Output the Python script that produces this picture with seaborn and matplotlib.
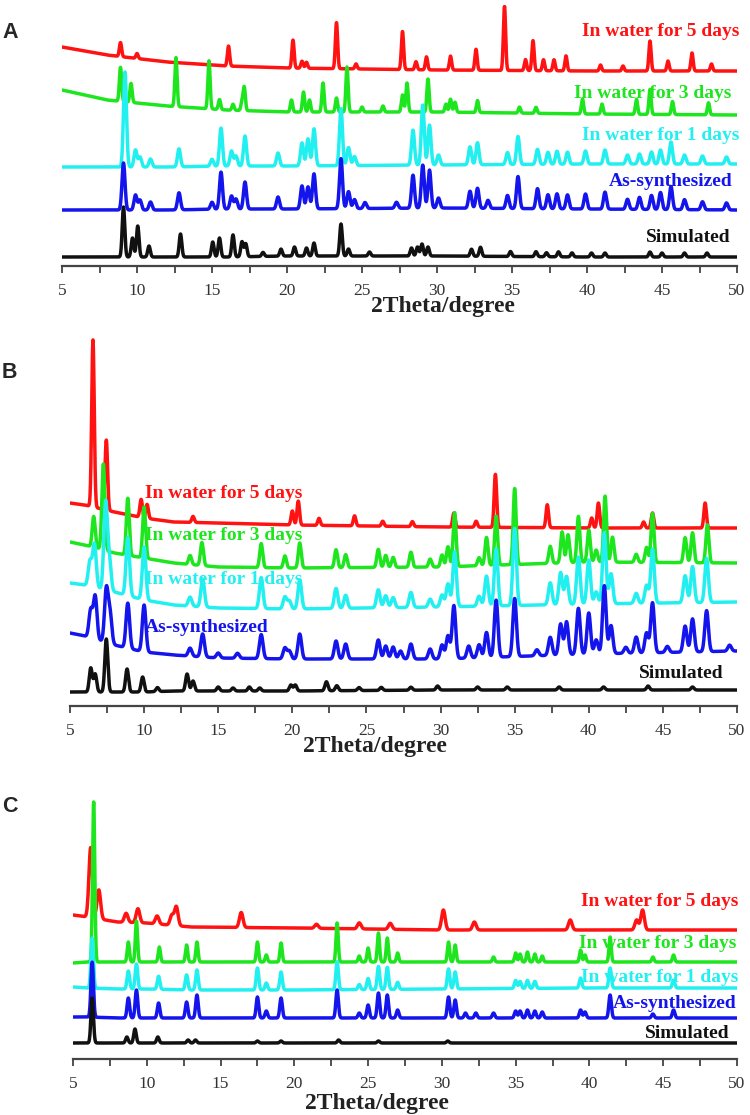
"""
plot.py
=======
Patrones PXRD (A, B, C): simulado, as-synthesized y tras 1/3/5 días en agua.
"""

import numpy as np
import pandas as pd
import matplotlib
matplotlib.use("Agg")
import matplotlib.pyplot as plt
from matplotlib.ticker import MultipleLocator
import seaborn as sns

SAMPLES = ["In water for 5 days", "In water for 3 days", "In water for 1 days",
           "As-synthesized", "Simulated"]
COLORS = ["#ff1212", "#1ee61e", "#22f0f0", "#1414ec", "#111111"]
TICKS = [5, 10, 15, 20, 25, 30, 35, 40, 45, 50]

# ---------------- Panel A ----------------
A_BG_X = [5, 8, 12, 16, 20, 30, 40, 50]
A_RED_BG = [219, 211, 204, 200, 198, 196, 195, 195]
A_GREEN_BG = [176, 166, 160, 156, 154, 154, 152, 151]
A_CYAN_BG = [99, 99, 99, 100, 100, 101, 102, 102]
A_BLUE_BG = [56, 56, 56, 57, 57, 58, 57, 56]
A_SIM_BG = [9, 9, 9, 9, 10, 10, 9, 9]

A_RED_PEAKS = [(8.9, 14), (10.0, 5), (16.1, 20), (20.4, 28), (21.0, 7), (21.3, 6),
               (23.3, 46), (24.6, 5), (27.7, 38), (28.6, 8), (29.3, 13), (30.9, 14),
               (32.6, 21), (34.5, 64), (35.9, 11), (36.4, 30), (37.1, 11), (37.8, 11),
               (38.6, 15), (40.9, 6), (42.4, 5), (44.2, 30), (45.4, 10), (47.0, 18),
               (48.3, 7)]
A_GREEN_PEAKS = [(8.9, 34), (9.6, 19), (12.6, 49), (14.8, 48), (15.5, 10), (16.4, 6),
                 (17.0, 8), (17.15, 23), (20.3, 12), (21.1, 20), (21.5, 12), (22.4, 29),
                 (23.3, 14), (24.0, 45), (25.0, 5), (26.4, 6), (27.7, 17), (28.0, 29),
                 (29.4, 33), (30.6, 8), (30.9, 13), (31.2, 10), (32.7, 12), (35.5, 6),
                 (36.6, 6), (39.7, 15), (41.0, 10), (43.3, 15), (44.2, 25), (45.7, 13),
                 (48.1, 12)]
A_CYAN_PEAKS = [(9.2, 95), (9.9, 17), (10.2, 10), (10.9, 8), (12.8, 18), (15.0, 7),
                (15.6, 38), (16.3, 15), (16.6, 10), (17.2, 30), (19.4, 13), (21.0, 23),
                (21.4, 27), (21.8, 37), (23.6, 57), (24.1, 18), (24.5, 9), (28.4, 35),
                (29.05, 60), (29.5, 40), (30.1, 10), (32.2, 18), (32.7, 22), (34.7, 12),
                (35.4, 28), (36.7, 15), (37.4, 12), (38.0, 13), (38.7, 12), (39.9, 13),
                (41.2, 14), (42.7, 9), (43.5, 10), (44.3, 12), (44.9, 14), (45.6, 22),
                (46.5, 9), (47.7, 8), (49.3, 7)]
A_BLUE_PEAKS = [(9.1, 47), (9.9, 15), (10.2, 10), (10.9, 8), (12.8, 17), (15.0, 7),
                (15.6, 37), (16.3, 13), (16.6, 10), (17.2, 27), (19.4, 12), (21.0, 23),
                (21.4, 22), (21.8, 35), (23.6, 50), (24.1, 17), (24.5, 9), (25.2, 6),
                (27.3, 6), (28.4, 33), (29.05, 43), (29.5, 38), (30.1, 10), (32.2, 17),
                (32.7, 20), (33.4, 8), (34.7, 13), (35.4, 32), (36.7, 20), (37.4, 14),
                (38.0, 15), (38.7, 14), (39.9, 15), (41.2, 17), (42.7, 10), (43.5, 12),
                (44.3, 14), (44.9, 17), (45.6, 23), (46.5, 10), (47.7, 8), (49.3, 7)]
A_SIM_PEAKS = [(9.1, 50), (9.7, 19), (10.05, 31), (10.8, 11), (12.9, 23), (15.05, 15),
               (15.5, 19), (16.4, 22), (17.0, 15), (17.25, 13), (18.4, 4), (19.6, 7),
               (20.5, 9), (21.3, 8), (21.8, 13), (23.6, 32), (24.1, 7), (25.5, 4),
               (28.3, 8), (28.7, 9), (29.0, 12), (29.4, 9), (32.3, 7), (32.9, 9),
               (34.9, 5), (36.6, 5), (37.3, 4), (38.1, 5), (39.0, 4), (40.3, 4),
               (41.2, 4), (44.2, 5), (45.0, 4), (46.5, 4), (48.0, 4)]

# ---------------- Panel B ----------------
B_BG_X = [5, 6, 8, 10, 12, 15, 20, 30, 40, 50]
B_RED_BG = [203, 201, 194, 188, 184, 183, 181, 179, 178, 178]
B_GREEN_BG = [164, 161, 153, 148, 143, 139, 138, 139, 144, 143]
B_CYAN_BG = [123, 121, 114, 106, 101, 98, 97, 99, 102, 104]
B_BLUE_BG = [73, 70, 61, 54, 51, 48, 47, 47, 52, 55]
B_SIM_BG = [14, 14, 14, 14, 15, 15, 15, 16, 16, 16]

B_RED_PEAKS = [(6.55, 167), (7.45, 70), (9.8, 18), (10.2, 14), (13.3, 6), (20.0, 14),
               (20.4, 24), (21.8, 7), (24.2, 10), (26.1, 5), (28.1, 5), (30.9, 14),
               (32.4, 6), (33.7, 53), (37.2, 23), (40.2, 10), (40.65, 25), (43.7, 6),
               (44.3, 15), (47.85, 25)]
B_GREEN_PEAKS = [(6.6, 31), (7.25, 86), (8.9, 57), (10.0, 51), (13.1, 9), (13.9, 23),
                 (17.9, 24), (19.5, 12), (20.5, 25), (22.95, 18), (23.6, 13), (25.8, 18),
                 (26.3, 12), (26.8, 10), (28.0, 15), (29.3, 8), (30.1, 12), (30.5, 20),
                 (30.95, 54), (32.6, 8), (33.1, 28), (33.75, 49), (35.0, 76), (37.4, 17),
                 (38.2, 31), (38.6, 28), (39.3, 46), (40.0, 32), (40.5, 12), (41.1, 66),
                 (41.6, 25), (43.2, 8), (43.9, 15), (44.3, 49), (46.5, 25), (47.0, 30),
                 (48.0, 38)]
B_CYAN_PEAKS = [(6.35, 25), (6.65, 43), (7.4, 86), (7.65, 30), (8.9, 58), (10.0, 53),
                (13.1, 9), (13.95, 28), (17.9, 31), (19.5, 12), (19.8, 8), (20.5, 29),
                (22.95, 20), (23.6, 13), (25.8, 18), (26.3, 12), (26.8, 10), (28.0, 15),
                (29.3, 8), (30.1, 12), (30.5, 23), (30.95, 55), (32.6, 10), (33.1, 30),
                (33.75, 57), (35.0, 77), (37.4, 22), (38.1, 32), (38.5, 28), (39.3, 47),
                (40.0, 44), (40.5, 12), (41.05, 71), (41.5, 30), (43.2, 10), (43.9, 18),
                (44.3, 54), (46.5, 27), (47.0, 36), (47.95, 44)]
B_BLUE_PEAKS = [(6.4, 28), (6.7, 43), (7.45, 53), (7.7, 30), (8.9, 45), (10.0, 47),
                (13.1, 8), (13.95, 23), (15.0, 5), (16.3, 5), (17.9, 24), (19.5, 11),
                (19.8, 8), (20.5, 25), (22.95, 18), (23.6, 15), (25.8, 19), (26.3, 13),
                (26.8, 12), (27.3, 8), (28.0, 15), (29.3, 10), (30.1, 14), (30.5, 23),
                (30.9, 53), (31.9, 12), (32.6, 13), (33.1, 25), (33.75, 57), (35.0, 58),
                (36.5, 6), (37.4, 18), (38.1, 31), (38.5, 33), (39.3, 46), (40.0, 41),
                (40.5, 14), (41.05, 68), (41.5, 28), (42.5, 6), (43.2, 16), (43.9, 20),
                (44.3, 50), (45.3, 6), (46.5, 26), (47.0, 33), (47.95, 41), (49.5, 6)]
B_SIM_PEAKS = [(6.4, 24), (6.7, 18), (7.45, 53), (8.85, 23), (9.9, 15), (10.9, 4),
               (12.9, 17), (13.3, 10), (15.0, 4), (16.0, 3), (17.1, 4), (17.8, 3),
               (19.9, 6), (20.2, 6), (22.3, 9), (23.0, 5), (24.5, 3), (26.0, 3),
               (28.0, 3), (29.8, 4), (32.5, 3), (34.5, 3), (38.0, 3), (41.0, 3),
               (44.0, 4), (47.0, 3)]

# ---------------- Panel C ----------------
C_BG_X = [5, 6, 8, 10, 13, 20, 30, 40, 50]
C_RED_BG = [144, 142, 137, 136, 132, 131, 129, 129, 129]
C_GREEN_BG = [96, 97, 97, 97, 97, 97, 97, 97, 97]
C_CYAN_BG = [72, 71, 70, 70, 69, 69, 70, 71, 71]
C_BLUE_BG = [42, 42, 41, 41, 41, 41, 41, 41, 41]
C_SIM_BG = [16, 16, 16, 16, 16, 16, 16, 16, 16]

C_RED_PEAKS = [(6.2, 70), (6.75, 29), (8.6, 9), (9.4, 14), (10.7, 8), (11.7, 10),
               (12.0, 19), (16.4, 15), (21.5, 4), (24.4, 6), (26.5, 6), (30.1, 20),
               (32.2, 8), (38.7, 10), (43.2, 10), (43.6, 20)]
C_GREEN_PEAKS = [(6.4, 160), (8.75, 20), (9.3, 41), (10.85, 15), (12.7, 17), (13.4, 20),
                 (17.5, 20), (18.1, 7), (19.1, 19), (22.9, 39), (24.4, 6), (25.0, 14),
                 (25.7, 29), (26.3, 24), (27.0, 9), (30.45, 20), (30.9, 17), (33.5, 5),
                 (35.0, 9), (35.3, 8), (35.8, 10), (36.3, 8), (36.8, 6), (39.4, 12),
                 (39.7, 7), (41.4, 25), (44.3, 5), (45.7, 7)]
C_CYAN_PEAKS = [(6.3, 50), (8.75, 18), (9.3, 25), (10.8, 13), (12.7, 15), (13.4, 20),
                (17.5, 22), (18.1, 7), (19.1, 18), (22.9, 28), (24.4, 5), (25.0, 11),
                (25.7, 23), (26.3, 22), (27.0, 7), (30.45, 20), (30.9, 17), (35.0, 8),
                (35.3, 7), (35.8, 8), (36.3, 7), (39.4, 10), (41.4, 20), (45.7, 8)]
C_BLUE_PEAKS = [(6.3, 55), (8.75, 20), (9.3, 28), (10.8, 15), (12.7, 16), (13.4, 23),
                (17.5, 21), (18.1, 7), (19.1, 20), (22.9, 28), (24.4, 5), (25.0, 13),
                (25.7, 25), (26.3, 23), (27.0, 8), (30.45, 21), (30.9, 18), (31.6, 5),
                (32.3, 5), (33.5, 5), (35.0, 7), (35.3, 7), (35.8, 8), (36.3, 7),
                (36.8, 6), (39.4, 8), (39.7, 6), (41.4, 23), (44.3, 4), (45.7, 8)]
C_SIM_PEAKS = [(6.3, 45), (8.65, 6), (9.2, 14), (10.75, 6), (12.8, 3), (13.3, 3),
               (17.5, 2), (19.1, 2), (23.0, 3), (25.7, 2), (30.4, 2)]

TWO_THETA = np.linspace(5, 50, 4501)

sns.set_theme(style="ticks")
plt.rcParams["font.family"] = ["Liberation Serif", "DejaVu Serif"]


def pattern(bg_x, bg_y, peaks, width):
    y = np.interp(TWO_THETA, bg_x, bg_y)
    for pos, h in peaks:
        y = y + h * np.exp(-0.5 * ((TWO_THETA - pos) / width) ** 2)
    return y


def panel_frame(curves):
    frames = []
    for name, bg_x, bg_y, peaks, width in curves:
        frames.append(pd.DataFrame({
            "two_theta": TWO_THETA,
            "intensity": pattern(bg_x, bg_y, peaks, width),
            "sample": name,
        }))
    return pd.concat(frames, ignore_index=True)


def draw_panel(ax, df, ytop, labels, xlabel_pos):
    sns.lineplot(data=df, x="two_theta", y="intensity", hue="sample",
                 hue_order=SAMPLES, palette=COLORS, estimator=None, sort=False,
                 linewidth=2.5, legend=False, ax=ax)
    ax.set_xlim(5, 50)
    ax.set_ylim(0, ytop)
    ax.set_xticks(TICKS)
    ax.xaxis.set_minor_locator(MultipleLocator(2.5))
    ax.set_yticks([])
    ax.set_xlabel("")
    ax.set_ylabel("")
    sns.despine(ax=ax, left=True)
    ax.spines["bottom"].set_color("#444444")
    ax.spines["bottom"].set_linewidth(1.6)
    ax.tick_params(axis="x", which="both", direction="out", length=5, width=1.3,
                   color="#444444", labelsize=12.5, labelcolor="#333333", pad=7)
    for (x, y, ha), name, color in zip(labels, SAMPLES, COLORS):
        ax.text(x, y, name, ha=ha, va="center", color=color, fontsize=14,
                fontweight="bold")
    ax.text(xlabel_pos[0], xlabel_pos[1], "2Theta/degree", transform=ax.transAxes,
            ha="center", va="center", fontsize=17, fontweight="bold", color="#222222")


fig = plt.figure(figsize=(7.5, 11.15), dpi=100)
ax_a = fig.add_axes([62 / 750, 1 - 266 / 1115, 675 / 750, 261 / 1115])
ax_b = fig.add_axes([70 / 750, 1 - 706 / 1115, 667 / 750, 376 / 1115])
ax_c = fig.add_axes([73 / 750, 1 - 1059 / 1115, 664 / 750, 264 / 1115])

df_a = panel_frame([
    (SAMPLES[0], A_BG_X, A_RED_BG, A_RED_PEAKS, 0.075),
    (SAMPLES[1], A_BG_X, A_GREEN_BG, A_GREEN_PEAKS, 0.075),
    (SAMPLES[2], A_BG_X, A_CYAN_BG, A_CYAN_PEAKS, 0.1),
    (SAMPLES[3], A_BG_X, A_BLUE_BG, A_BLUE_PEAKS, 0.1),
    (SAMPLES[4], A_BG_X, A_SIM_BG, A_SIM_PEAKS, 0.085),
])
df_b = panel_frame([
    (SAMPLES[0], B_BG_X, B_RED_BG, B_RED_PEAKS, 0.085),
    (SAMPLES[1], B_BG_X, B_GREEN_BG, B_GREEN_PEAKS, 0.1),
    (SAMPLES[2], B_BG_X, B_CYAN_BG, B_CYAN_PEAKS, 0.12),
    (SAMPLES[3], B_BG_X, B_BLUE_BG, B_BLUE_PEAKS, 0.12),
    (SAMPLES[4], B_BG_X, B_SIM_BG, B_SIM_PEAKS, 0.1),
])
df_c = panel_frame([
    (SAMPLES[0], C_BG_X, C_RED_BG, C_RED_PEAKS, 0.12),
    (SAMPLES[1], C_BG_X, C_GREEN_BG, C_GREEN_PEAKS, 0.075),
    (SAMPLES[2], C_BG_X, C_CYAN_BG, C_CYAN_PEAKS, 0.085),
    (SAMPLES[3], C_BG_X, C_BLUE_BG, C_BLUE_PEAKS, 0.085),
    (SAMPLES[4], C_BG_X, C_SIM_BG, C_SIM_PEAKS, 0.085),
])

draw_panel(ax_a, df_a, 261,
           [(50.13, 234, "right"), (49.6, 173, "right"), (50.13, 130, "right"),
            (49.73, 84, "right"), (49.6, 29, "right")],
           (0.564, -0.157))
draw_panel(ax_b, df_b, 376,
           [(10.06, 213, "left"), (10.06, 171, "left"), (10.06, 127, "left"),
            (10.06, 78, "left"), (49.06, 33, "right")],
           (0.457, -0.109))
draw_panel(ax_c, df_c, 264,
           [(50.12, 157, "right"), (49.99, 115, "right"), (50.12, 82, "right"),
            (50.0, 56, "right"), (49.5, 26, "right")],
           (0.458, -0.168))

for letter, ypix in [("A", 32), ("B", 372), ("C", 807)]:
    fig.text(2 / 750, 1 - ypix / 1115, letter, ha="left", va="center",
             fontsize=15.5, fontweight="bold", family=["Liberation Sans", "DejaVu Sans"])

fig.savefig("out.png", dpi=100, facecolor="white")
plt.close(fig)
